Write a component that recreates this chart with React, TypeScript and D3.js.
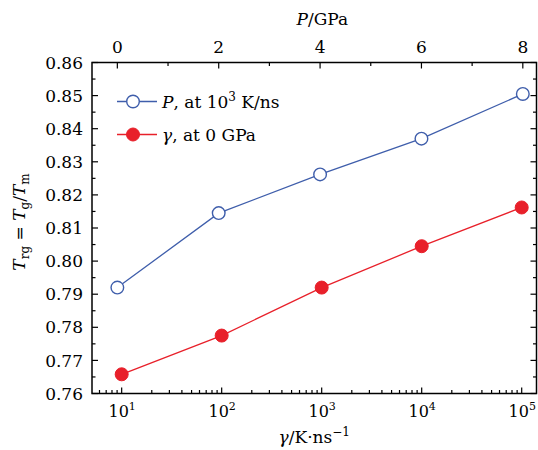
import React from 'react';
import * as d3 from 'd3';

const pressure = [0, 2, 4, 6, 8];
const trgVsPressure = [0.792, 0.8145, 0.8262, 0.837, 0.8505];
const coolingRate = [1e1, 1e2, 1e3, 1e4, 1e5];
const trgVsRate = [0.7658, 0.7775, 0.792, 0.8045, 0.8162];
const yTicks = [0.76, 0.77, 0.78, 0.79, 0.8, 0.81, 0.82, 0.83, 0.84, 0.85, 0.86];

const W = 538;
const H = 450;
const margin = { top: 62.5, right: 1.5, bottom: 56.5, left: 92 };
const FONT = '"DejaVu Serif", serif';
const FS = 17;
const SUB = 12;
const BLUE = '#3f5eab';
const RED = '#e8202a';

export default function App() {
  const x0 = margin.left;
  const x1 = W - margin.right;
  const y0 = H - margin.bottom;
  const y1 = margin.top;

  const y = d3.scaleLinear().domain([0.76, 0.86]).range([y0, y1]);
  const xLog = d3.scaleLog().domain([5.05, 1.406e5]).range([x0, x1]);
  const xP = d3.scaleLinear().domain([-0.5, 8.27]).range([x0, x1]);

  const lineP = d3.line<number>()
    .x((_, i) => xP(pressure[i]))
    .y(d => y(d));
  const lineR = d3.line<number>()
    .x((_, i) => xLog(coolingRate[i]))
    .y(d => y(d));

  const yMinor = d3.range(0.76, 0.8601, 0.005);
  const logTicks = xLog.ticks();
  const pMinor = d3.range(0, 8.1, 1);

  const tickStyle = { stroke: '#000', strokeWidth: 1.2 };

  return (
    <svg width={W} height={H} style={{ position: 'absolute', left: 0, top: 0 }} fontFamily={FONT}>
      <rect width={W} height={H} fill="#fff" />

      {/* left / right ticks */}
      {yMinor.map((v, i) => {
        const major = i % 2 === 0;
        const len = major ? 6 : 3.5;
        return (
          <g key={'y' + i}>
            <line x1={x0} x2={x0 + len} y1={y(v)} y2={y(v)} {...tickStyle} />
            <line x1={x1} x2={x1 - len} y1={y(v)} y2={y(v)} {...tickStyle} />
          </g>
        );
      })}
      {yTicks.map(t => (
        <text key={'yl' + t} x={x0 - 9} y={y(t)} dy="0.36em" textAnchor="end" fontSize={FS}>
          {t.toFixed(2)}
        </text>
      ))}

      {/* bottom log axis */}
      {logTicks.map((t, i) => {
        const major = Math.abs(Math.log10(t) - Math.round(Math.log10(t))) < 1e-9;
        return (
          <line key={'b' + i} x1={xLog(t)} x2={xLog(t)} y1={y0} y2={y0 - (major ? 6 : 3.5)} {...tickStyle} />
        );
      })}
      {coolingRate.map(t => (
        <text key={'bl' + t} x={xLog(t) + 0.5} y={417} textAnchor="middle" fontSize={16}>
          10<tspan dy={-7} fontSize={11}>{Math.round(Math.log10(t))}</tspan>
        </text>
      ))}
      <text x={(x0 + x1) / 2} y={443} textAnchor="middle" fontSize={FS}>
        <tspan fontStyle="italic">γ</tspan>/K·ns<tspan dy={-7} fontSize={SUB}>−1</tspan>
      </text>

      {/* top pressure axis */}
      {pMinor.map(p => (
        <line key={'t' + p} x1={xP(p)} x2={xP(p)} y1={y1} y2={y1 + (p % 2 === 0 ? 6 : 3.5)} {...tickStyle} />
      ))}
      {pressure.map(p => (
        <text key={'tl' + p} x={xP(p)} y={53} textAnchor="middle" fontSize={FS}>{p}</text>
      ))}
      <text x={(x0 + x1) / 2 + 8} y={25} textAnchor="middle" fontSize={FS}>
        <tspan fontStyle="italic">P</tspan>/GPa
      </text>

      {/* y title */}
      <text transform={`translate(25,222) rotate(-90)`} textAnchor="middle" fontSize={FS}>
        <tspan fontStyle="italic">T</tspan>
        <tspan dy={4} fontSize={SUB}>rg</tspan>
        <tspan dy={-4}> = </tspan>
        <tspan fontStyle="italic">T</tspan>
        <tspan dy={4} fontSize={SUB}>g</tspan>
        <tspan dy={-4}>/</tspan>
        <tspan fontStyle="italic">T</tspan>
        <tspan dy={4} fontSize={SUB}>m</tspan>
      </text>

      {/* series */}
      <path d={lineP(trgVsPressure) || ''} fill="none" stroke={BLUE} strokeWidth={1.3} />
      {trgVsPressure.map((v, i) => (
        <circle key={'pc' + i} cx={xP(pressure[i])} cy={y(v)} r={6.3} fill="#fff" stroke={BLUE} strokeWidth={1.4} />
      ))}
      <path d={lineR(trgVsRate) || ''} fill="none" stroke={RED} strokeWidth={1.3} />
      {trgVsRate.map((v, i) => (
        <circle key={'rc' + i} cx={xLog(coolingRate[i])} cy={y(v)} r={6.5} fill={RED} stroke={RED} strokeWidth={1} />
      ))}

      {/* legend */}
      <g>
        <line x1={117} x2={157} y1={101.5} y2={101.5} stroke={BLUE} strokeWidth={1.3} />
        <circle cx={133} cy={101.5} r={6.3} fill="#fff" stroke={BLUE} strokeWidth={1.4} />
        <text x={162} y={101.5} dy="0.36em" fontSize={FS}>
          <tspan fontStyle="italic">P</tspan>, at 10<tspan dy={-7} fontSize={SUB}>3</tspan><tspan dy={7}> K/ns</tspan>
        </text>
        <line x1={117} x2={157} y1={134.5} y2={134.5} stroke={RED} strokeWidth={1.3} />
        <circle cx={133} cy={134.5} r={6.5} fill={RED} stroke={RED} strokeWidth={1} />
        <text x={162} y={134.5} dy="0.36em" fontSize={FS}>
          <tspan fontStyle="italic">γ</tspan>, at 0 GPa
        </text>
      </g>

      {/* frame */}
      <rect x={x0} y={y1} width={x1 - x0} height={y0 - y1} fill="none" stroke="#000" strokeWidth={1.5} />
    </svg>
  );
}
